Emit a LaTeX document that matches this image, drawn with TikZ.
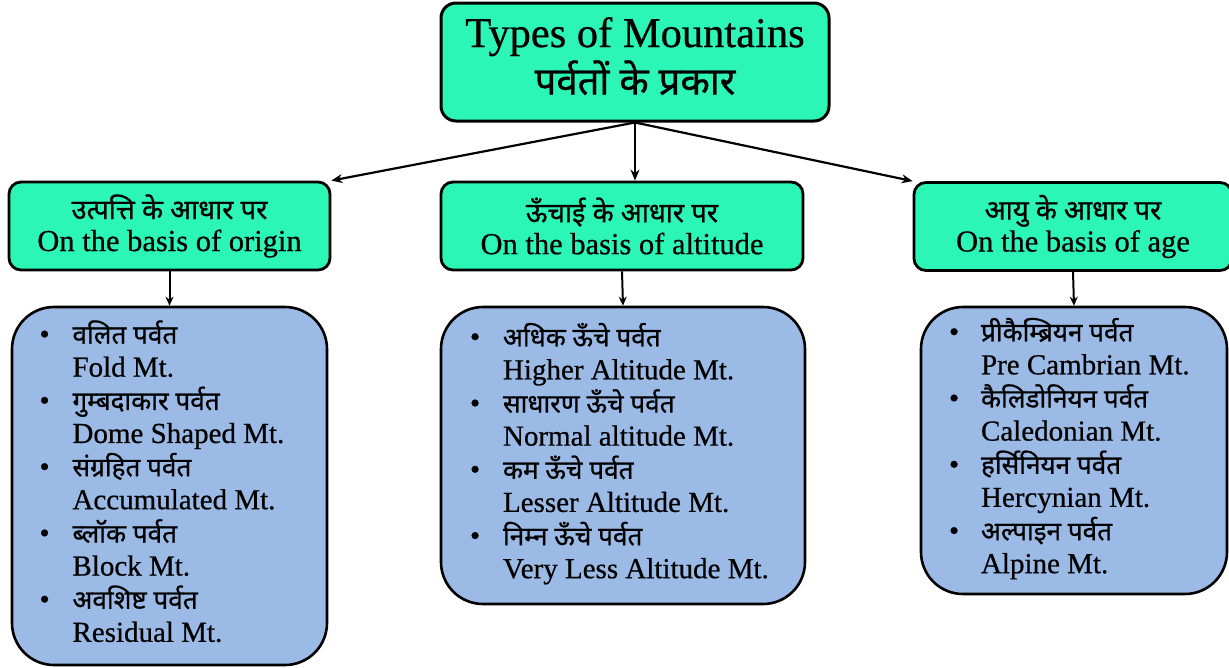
\documentclass[tikz,border=0pt]{standalone}
\usepackage{fontspec}
\setmainfont{Liberation Serif}[FakeBold=0.6]
\newfontfamily\hindi[Script=Devanagari,Scale=0.9,FakeBold=0.8]{Noto Sans}
\usetikzlibrary{arrows.meta}
\definecolor{mint}{RGB}{44,246,181}
\definecolor{sky}{RGB}{155,187,230}

\begin{document}
\begin{tikzpicture}[x=1pt,y=-1pt,
  headbox/.style={draw=black, line width=3pt, fill=mint, rounded corners=15pt,
    align=center, inner sep=0pt},
  groupbox/.style={draw=black, line width=2.8pt, fill=mint, rounded corners=12pt,
    align=center, inner sep=0pt, minimum height=88pt,
    font=\fontsize{30.5}{32}\selectfont},
  listbox/.style={draw=black, line width=2.6pt, fill=sky, rounded corners=42pt,
    inner sep=0pt, font=\fontsize{29}{33}\selectfont},
  link/.style={line width=2.2pt, -{Stealth[length=11pt,width=9pt]}},
  down/.style={line width=2pt, -{Stealth[length=9pt,width=8pt]}}
]
\useasboundingbox (0,0) rectangle (1229,667);

% root
\node[headbox, minimum width=388pt, minimum height=118pt,
      font=\fontsize{42.5}{44}\selectfont] (root) at (635,62)
  {\raisebox{3pt}{\begin{tabular}{@{}c@{}}Types of Mountains\\{\hindi पर्वतों के प्रकार}\end{tabular}}};

% classification criteria
\node[groupbox, minimum width=321pt] (origin) at (169.5,226)
  {{\hindi उत्पत्ति के आधार पर}\\On the basis of origin};
\node[groupbox, minimum width=362pt] (height) at (622,226)
  {{\hindi ऊँचाई के आधार पर}\\On the basis of altitude};
\node[groupbox, minimum width=318pt] (age) at (1073,226.5)
  {{\hindi आयु के आधार पर}\\On the basis of age};

% lists of mountain types
\node[listbox, minimum width=315pt, minimum height=358pt] (originlist) at (169.5,486)
  {\makebox[260pt][l]{\begin{tabular}{@{}p{33pt}@{}l@{}}
   \textbullet & {\hindi वलित पर्वत}\\
               & Fold Mt.\\
   \textbullet & {\hindi गुम्बदाकार पर्वत}\\
               & Dome Shaped Mt.\\
   \textbullet & {\hindi संग्रहित पर्वत}\\
               & Accumulated Mt.\\
   \textbullet & {\hindi ब्लॉक पर्वत}\\
               & Block Mt.\\
   \textbullet & {\hindi अवशिष्ट पर्वत}\\
               & Residual Mt.
   \end{tabular}}};
\node[listbox, minimum width=364pt, minimum height=297pt] (heightlist) at (623,455.5)
  {\makebox[306pt][l]{\begin{tabular}{@{}p{33pt}@{}l@{}}
   \textbullet & {\hindi अधिक ऊँचे पर्वत}\\
               & Higher Altitude Mt.\\
   \textbullet & {\hindi साधारण ऊँचे पर्वत}\\
               & Normal altitude Mt.\\
   \textbullet & {\hindi कम ऊँचे पर्वत}\\
               & Lesser Altitude Mt.\\
   \textbullet & {\hindi निम्न ऊँचे पर्वत}\\
               & Very Less Altitude Mt.
   \end{tabular}}};
\node[listbox, minimum width=306pt, minimum height=287pt] (agelist) at (1074,450.5)
  {\makebox[250pt][l]{\begin{tabular}{@{}p{32pt}@{}l@{}}
   \textbullet & {\hindi प्रीकैम्ब्रियन पर्वत}\\
               & Pre Cambrian Mt.\\
   \textbullet & {\hindi कैलिडोनियन पर्वत}\\
               & Caledonian Mt.\\
   \textbullet & {\hindi हर्सिनियन पर्वत}\\
               & Hercynian Mt.\\
   \textbullet & {\hindi अल्पाइन पर्वत}\\
               & Alpine Mt.
   \end{tabular}}};

% connectors
\draw[link] (root.south) -- (origin.north east);
\draw[link] (root.south) -- (root.south |- height.north);
\draw[link] (root.south) -- (age.north west);
\draw[down] (origin.south) -- (originlist.north);
\draw[down] (height.south) -- (heightlist.north);
\draw[down] (age.south) -- (agelist.north);
\end{tikzpicture}
\end{document}
